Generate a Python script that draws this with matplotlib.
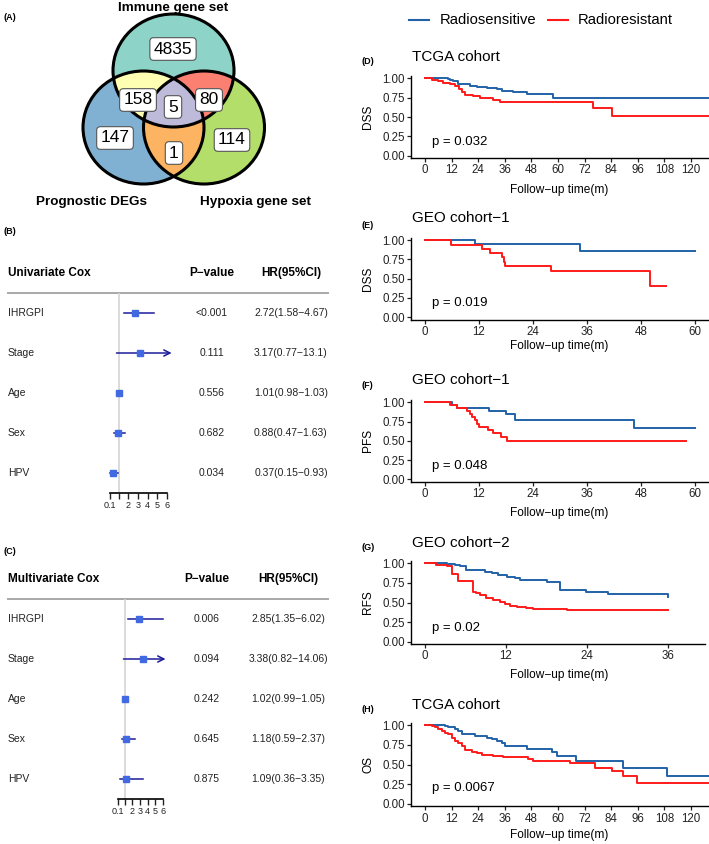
import numpy as np
import matplotlib
matplotlib.use('Agg')
import matplotlib.pyplot as plt
from matplotlib.patches import Ellipse, Polygon

plt.rcParams['font.family'] = ['Liberation Sans', 'DejaVu Sans']

W, H = 709, 844

######################
#   DADOS            #
######################
# venn (A)
venn_sets = ['Immune gene set', 'Prognostic DEGs', 'Hypoxia gene set']
venn_regions = ['A', 'B', 'C', 'AB', 'AC', 'BC', 'ABC']
venn_counts = [4835, 147, 114, 158, 80, 1, 5]

# cox (B) e (C)
cox_vars = ['IHRGPI', 'Stage', 'Age', 'Sex', 'HPV']
uni_p = ['<0.001', '0.111', '0.556', '0.682', '0.034']
uni_hr = [2.72, 3.17, 1.01, 0.88, 0.37]
uni_lo = [1.58, 0.77, 0.98, 0.47, 0.15]
uni_hi = [4.67, 13.1, 1.03, 1.63, 0.93]
uni_txt = ['2.72(1.58\u22124.67)', '3.17(0.77\u221213.1)', '1.01(0.98\u22121.03)',
           '0.88(0.47\u22121.63)', '0.37(0.15\u22120.93)']
multi_p = ['0.006', '0.094', '0.242', '0.645', '0.875']
multi_hr = [2.85, 3.38, 1.02, 1.18, 1.09]
multi_lo = [1.35, 0.82, 0.99, 0.59, 0.36]
multi_hi = [6.02, 14.06, 1.05, 2.37, 3.35]
multi_txt = ['2.85(1.35\u22126.02)', '3.38(0.82\u221214.06)', '1.02(0.99\u22121.05)',
             '1.18(0.59\u22122.37)', '1.09(0.36\u22123.35)']
hr_ticks = [0.1, 1, 2, 3, 4, 5, 6]
hr_ticklabels = ['0.1', '', '2', '3', '4', '5', '6']

# kaplan-meier (D)-(H)
km_tags = ['(D)', '(E)', '(F)', '(G)', '(H)']
km_titles = ['TCGA cohort', 'GEO cohort\u22121', 'GEO cohort\u22121', 'GEO cohort\u22122', 'TCGA cohort']
km_ylabels = ['DSS', 'DSS', 'PFS', 'RFS', 'OS']
km_pvals = ['p = 0.032', 'p = 0.019', 'p = 0.048', 'p = 0.02', 'p = 0.0067']
km_xbreaks = [np.arange(0, 121, 12), np.arange(0, 61, 12), np.arange(0, 61, 12),
              np.arange(0, 37, 12), np.arange(0, 121, 12)]

d_sens_t = [0, 10.5, 11.5, 12.8, 15, 17.3, 20.3, 23.3, 27.8, 32.3, 34.6, 39.8, 45.9, 57.6, 130]
d_sens_s = [1, 0.99, 0.98, 0.96, 0.93, 0.92, 0.90, 0.89, 0.88, 0.86, 0.84, 0.82, 0.80, 0.74, 0.74]
d_res_t = [0, 3, 6, 8.3, 11.3, 13.5, 15.3, 16.5, 18, 21.8, 24.8, 25.6, 30.8, 33.8, 35.3, 75.9, 84.5, 130]
d_res_s = [1, 0.98, 0.96, 0.94, 0.92, 0.90, 0.86, 0.82, 0.78, 0.77, 0.75, 0.74, 0.72, 0.70, 0.69, 0.61, 0.51, 0.51]

e_sens_t = [0, 11.1, 34.4, 60]
e_sens_s = [1, 0.95, 0.86, 0.86]
e_res_t = [0, 5.7, 12.6, 14.5, 17.2, 17.5, 17.8, 28, 50.1, 53.5]
e_res_s = [1, 0.94, 0.89, 0.83, 0.78, 0.72, 0.67, 0.60, 0.40, 0.40]

f_sens_t = [0, 5.9, 7.0, 14.3, 18.1, 19.9, 46.5, 60]
f_sens_s = [1, 0.97, 0.93, 0.89, 0.85, 0.77, 0.66, 0.66]
f_res_t = [0, 5.6, 7.0, 9.3, 9.9, 10.4, 11.0, 11.5, 11.9, 14.1, 15.2, 16.8, 18.2, 57.9]
f_res_s = [1, 0.96, 0.92, 0.89, 0.85, 0.81, 0.77, 0.72, 0.68, 0.64, 0.60, 0.55, 0.50, 0.50]

g_sens_t = [0, 3.2, 4.4, 5.2, 6.1, 8.9, 9.9, 10.8, 12.1, 13.3, 14.1, 18, 20, 23.9, 27.1, 36]
g_sens_s = [1, 0.99, 0.98, 0.96, 0.91, 0.89, 0.87, 0.85, 0.83, 0.81, 0.79, 0.76, 0.66, 0.63, 0.61, 0.57]
g_res_t = [0, 1.7, 3.2, 4.0, 4.9, 7.1, 7.6, 8.1, 9.1, 10.1, 11.1, 11.8, 12.6, 13.6, 15, 16, 21, 36]
g_res_s = [1, 0.98, 0.96, 0.86, 0.78, 0.64, 0.62, 0.59, 0.56, 0.53, 0.51, 0.48, 0.46, 0.44, 0.43, 0.42, 0.40, 0.40]

h_sens_t = [0, 9.0, 10.5, 12, 13.5, 15, 16.5, 19.5, 22.6, 27.8, 30.1, 32.3, 34.6, 36.1, 40.6, 45.9,
            57.1, 59.4, 68, 89.5, 109, 130]
h_sens_s = [1, 0.99, 0.98, 0.97, 0.95, 0.92, 0.89, 0.88, 0.86, 0.83, 0.82, 0.80, 0.77, 0.74, 0.73, 0.70,
            0.66, 0.61, 0.55, 0.46, 0.35, 0.35]
h_res_t = [0, 3, 4.5, 6, 7.5, 9, 10.5, 12, 13.5, 15, 16.5, 18, 21, 23.3, 25.6, 30.8, 35.3, 46.6, 48.9,
           65.4, 76.7, 84.2, 89.5, 95.5, 130]
h_res_s = [1, 0.99, 0.97, 0.95, 0.92, 0.90, 0.88, 0.84, 0.80, 0.77, 0.73, 0.68, 0.66, 0.64, 0.62, 0.61,
           0.59, 0.57, 0.55, 0.52, 0.46, 0.42, 0.35, 0.26, 0.26]

km_sens = [(d_sens_t, d_sens_s), (e_sens_t, e_sens_s), (f_sens_t, f_sens_s), (g_sens_t, g_sens_s), (h_sens_t, h_sens_s)]
km_res = [(d_res_t, d_res_s), (e_res_t, e_res_s), (f_res_t, f_res_s), (g_res_t, g_res_s), (h_res_t, h_res_s)]

BLUE = '#2262A8'
RED = '#FF1A1A'

fig = plt.figure(figsize=(W / 100, H / 100), dpi=100)
# eixo de fundo em pixels, para textos e venn
bg = fig.add_axes([0, 0, 1, 1])
bg.set_xlim(0, W)
bg.set_ylim(H, 0)
bg.axis('off')


def px_axes(left, top, right, bottom):
    return fig.add_axes([left / W, 1 - bottom / H, (right - left) / W, (bottom - top) / H])


######################
#   VENN (A)         #
######################
RX, RY = 60.5, 56.5
centers = {'A': (173.5, 70.5), 'B': (143.5, 127.5), 'C': (204, 127.5)}
fills = {'A': '#8DD3C7', 'B': '#80B1D3', 'C': '#B3DE69',
         'AB': '#FFFFB3', 'AC': '#FB8072', 'BC': '#FDB462', 'ABC': '#BEBADA'}
count_pos = {'A': (173, 49), 'B': (115, 138), 'C': (232, 140), 'AB': (138, 100),
             'AC': (209, 100), 'BC': (174, 153), 'ABC': (173, 107)}


def ell_pts(c, n=720):
    th = np.linspace(0, 2 * np.pi, n, endpoint=False)
    return np.column_stack([c[0] + RX * np.cos(th), c[1] + RY * np.sin(th)])


def inside(p, c):
    return ((p[:, 0] - c[0]) / RX) ** 2 + ((p[:, 1] - c[1]) / RY) ** 2 <= 1 + 1e-9


def region(keys):
    pts = []
    for k in keys:
        p = ell_pts(centers[k])
        m = np.ones(len(p), bool)
        for o in keys:
            if o != k:
                m &= inside(p, centers[o])
        pts.append(p[m])
    pts = np.vstack(pts)
    m0 = pts.mean(axis=0)
    ang = np.arctan2(pts[:, 1] - m0[1], pts[:, 0] - m0[0])
    return pts[np.argsort(ang)]


for k in ['A', 'B', 'C']:
    bg.add_patch(Ellipse(centers[k], 2 * RX, 2 * RY, fc=fills[k], ec='none', zorder=1))
for k in ['AB', 'AC', 'BC']:
    bg.add_patch(Polygon(region(list(k)), closed=True, fc=fills[k], ec='none', zorder=2))
bg.add_patch(Polygon(region(['A', 'B', 'C']), closed=True, fc=fills['ABC'], ec='none', zorder=3))
for k in ['A', 'B', 'C']:
    bg.add_patch(Ellipse(centers[k], 2 * RX, 2 * RY, fc='none', ec='black', lw=2.2, zorder=4))
for reg, n in zip(venn_regions, venn_counts):
    x, y = count_pos[reg]
    bg.text(x, y, str(n), ha='center', va='center', fontsize=12.5, zorder=6,
            bbox=dict(boxstyle='round,pad=0.22', fc='white', ec='#555555', lw=0.8))
for name, (x, y) in zip(venn_sets, [(173, 8), (92, 202), (255, 202)]):
    bg.text(x, y, name, ha='center', va='center', fontsize=9.7, fontweight='bold')
bg.text(3, 18, '(A)', ha='left', va='center', fontsize=6.5, fontweight='bold')


######################
#   FOREST (B)(C)    #
######################
def forest(tag, tag_y, title, head_y, pvals, hrs, los, his, txts, p_x, hr_x, x0px, scale, ax_l, ax_r, arrow_end):
    bg.text(3, tag_y, tag, ha='left', va='center', fontsize=6.5, fontweight='bold')
    bg.text(8, head_y, title, ha='left', va='center', fontsize=8.5, fontweight='bold')
    bg.text(p_x, head_y, 'P\u2212value', ha='center', va='center', fontsize=8.5, fontweight='bold')
    bg.text(hr_x, head_y, 'HR(95%CI)', ha='center', va='center', fontsize=8.5, fontweight='bold')
    line_y = head_y + 20
    bg.plot([8, 328], [line_y, line_y], color='#a8a8a8', lw=1.4)
    for i, name in enumerate(cox_vars):
        y = line_y + 20 + 40 * i
        bg.text(8, y, name, ha='left', va='center', fontsize=7.5, color='#222222')
        bg.text(p_x, y, pvals[i], ha='center', va='center', fontsize=7.5, color='#222222')
        bg.text(hr_x, y, txts[i], ha='center', va='center', fontsize=7.5, color='#222222')

    ax = px_axes(ax_l, line_y, ax_r, line_y + 200)
    ax.patch.set_alpha(0)
    ax.set_xlim(0.1 + (ax_l - x0px) / scale, 0.1 + (ax_r - x0px) / scale)
    ax.set_ylim(4.5, -0.5)
    ax.axvline(1, color='#d4d4d4', lw=1.2, zorder=0)
    for i in range(len(cox_vars)):
        if his[i] > arrow_end:
            ax.annotate('', xy=(arrow_end, i), xytext=(los[i], i),
                        arrowprops=dict(arrowstyle='->', color='#1c1c9a', lw=1.1,
                                        mutation_scale=11, shrinkA=0, shrinkB=0))
        else:
            ax.plot([los[i], his[i]], [i, i], color='#1c1c9a', lw=1.1)
        ax.plot(hrs[i], i, 's', color='#4169E1', ms=4, zorder=5)
    for s in ['top', 'right', 'left']:
        ax.spines[s].set_visible(False)
    ax.spines['bottom'].set_bounds(0.1, 6)
    ax.spines['bottom'].set_linewidth(1.2)
    ax.set_yticks([])
    ax.set_xticks(hr_ticks)
    ax.set_xticklabels(hr_ticklabels)
    ax.tick_params(axis='x', length=4, width=1.0, labelsize=6.5, pad=1.5, colors='#222222')


forest('(B)', 232, 'Univariate Cox', 273, uni_p, uni_hr, uni_lo, uni_hi, uni_txt,
       212, 291, 110, 9.66, 104, 173, 6.48)
forest('(C)', 551, 'Multivariate Cox', 579, multi_p, multi_hr, multi_lo, multi_hi, multi_txt,
       207, 288, 118, 7.63, 112, 167, 6.33)


######################
#   KAPLAN-MEIER     #
######################
# legenda
bg.plot([409, 429], [20, 20], color=BLUE, lw=1.5)
bg.text(440, 20, 'Radiosensitive', ha='left', va='center', fontsize=10.6)
bg.plot([548, 568], [20, 20], color=RED, lw=1.5)
bg.text(578, 20, 'Radioresistant', ha='left', va='center', fontsize=10.6)

# y(1.00), y(0.00), px por mes, borda direita, titulo, tag, xlabel, p
km_y1 = [78.3, 240, 402.3, 563.3, 725]
km_y0 = [155.7, 317.3, 479.3, 641.7, 804]
km_scale = [2.217, 4.5, 4.5, 6.75, 2.217]
km_right = [709, 708, 708, 705, 709]
km_title_y = [57, 218, 380, 543, 705]
km_tag_y = [62, 225, 386, 548, 709]
km_xlab_y = [190, 346, 513, 675, 835]
km_p_y = [142, 303, 466, 628, 788]

for k in range(5):
    y1, y0, sc = km_y1[k], km_y0[k], km_scale[k]
    span = y0 - y1
    ax = px_axes(411, y1 - 0.03 * span, km_right[k], y0 + 0.03 * span)
    ax.patch.set_alpha(0)
    ax.set_ylim(-0.03, 1.03)
    ax.set_xlim((411 - 425) / sc, (km_right[k] - 425) / sc)
    t, s = km_sens[k]
    ax.step(t, s, where='post', color=BLUE, lw=1.4)
    t, s = km_res[k]
    ax.step(t, s, where='post', color=RED, lw=1.4)
    for sp in ['top', 'right']:
        ax.spines[sp].set_visible(False)
    for sp in ['left', 'bottom']:
        ax.spines[sp].set_linewidth(1.0)
    ax.set_yticks([0, 0.25, 0.5, 0.75, 1.0])
    ax.set_yticklabels(['0.00', '0.25', '0.50', '0.75', '1.00'])
    ax.set_xticks(km_xbreaks[k])
    ax.tick_params(length=3, width=0.9, labelsize=8.3, pad=1.5, colors='#222222')

    bg.text(412, km_title_y[k], km_titles[k], ha='left', va='center', fontsize=11)
    bg.text(362, km_tag_y[k], km_tags[k], ha='left', va='center', fontsize=6.5, fontweight='bold')
    bg.text(559, km_xlab_y[k], 'Follow\u2212up time(m)', ha='center', va='center', fontsize=8.6)
    bg.text(368, (y1 + y0) / 2, km_ylabels[k], ha='center', va='center', fontsize=8.6, rotation=90)
    bg.text(432, km_p_y[k], km_pvals[k], ha='left', va='center', fontsize=9.5)

fig.savefig('out.png', dpi=100)
